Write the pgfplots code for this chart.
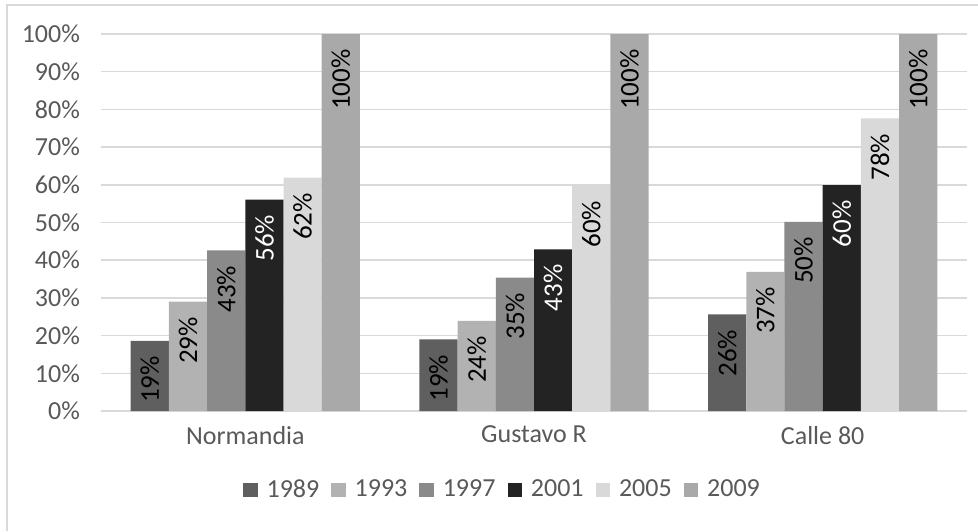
\documentclass[border=0pt]{standalone}
\usepackage{pgfplots}
\pgfplotsset{compat=1.18}
\usepackage{fontspec}
\setmainfont{Carlito}
\definecolor{c1}{HTML}{5F5F5F}
\definecolor{c2}{HTML}{B2B2B2}
\definecolor{c3}{HTML}{8A8A8A}
\definecolor{c4}{HTML}{232323}
\definecolor{c5}{HTML}{D9D9D9}
\definecolor{c6}{HTML}{A9A9A9}
\definecolor{gridc}{HTML}{D9D9D9}
\definecolor{tickc}{HTML}{595959}
\begin{document}
\begin{tikzpicture}
\path[use as bounding box] (-50.5pt,-60pt) rectangle (438.5pt,205.5pt);
\draw[color=gridc, line width=0.75pt] (-47pt,-60pt) -- (-47pt,203pt) -- (438.5pt,203pt);
\begin{axis}[
  scale only axis, width=433pt, height=188.5pt,
  ybar=0pt, bar width=19.1pt,
  legend image code/.code={\fill[#1,/tikz/.cd,draw=none] (0pt,-3.6pt) rectangle (7.2pt,3.6pt);},
  xmin=-0.5, xmax=2.5, ymin=0, ymax=100,
  xtick={0,1,2}, xticklabels={Normandia,Gustavo R,Calle 80},
  ytick={0,10,...,100},
  yticklabel={\pgfmathprintnumber{\tick}\%},
  /pgf/number format/assume math mode=true,
  axis line style={draw=none}, major tick length=0pt,
  ymajorgrids, grid style={gridc, line width=0.75pt},
  tick label style={font=\fontsize{13}{15}\selectfont, text=tickc},
  xticklabel style={yshift=-4pt},
  yticklabel style={xshift=-7pt},
  nodes near coords={\pgfmathprintnumber[fixed,precision=0]{\pgfplotspointmeta}\%},
  every node near coord/.append style={rotate=90, anchor=east, inner xsep=7.5pt, font=\fontsize{13.5}{15}\selectfont, text=black},
  legend style={at={(0.4648,-0.2095)}, anchor=center, draw=none, legend columns=6,
    font=\fontsize{13}{15}\selectfont, text=tickc,
    /tikz/every odd column/.append style={column sep=2.5pt},
    /tikz/every even column/.append style={column sep=4pt}},
]
\addplot[fill=c1, draw=none] coordinates {(0,18.6) (1,19.0) (2,25.6)};
\addplot[fill=c2, draw=none] coordinates {(0,29.0) (1,23.9) (2,36.9)};
\addplot[fill=c3, draw=none] coordinates {(0,42.6) (1,35.4) (2,50.2)};
\addplot[fill=c4, draw=none, every node near coord/.append style={text=white}] coordinates {(0,56.1) (1,42.9) (2,59.9)};
\addplot[fill=c5, draw=none] coordinates {(0,61.9) (1,59.8) (2,77.6)};
\addplot[fill=c6, draw=none] coordinates {(0,100) (1,100) (2,100)};
\legend{1989,1993,1997,2001,2005,2009}
\end{axis}
\end{tikzpicture}
\end{document}
